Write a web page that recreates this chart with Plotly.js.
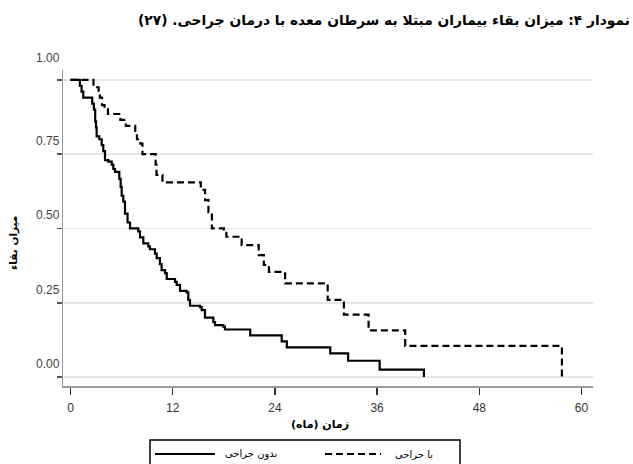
<!DOCTYPE html>
<html>
<head>
<meta charset="utf-8">
<script src="https://cdn.plot.ly/plotly-3.0.1.min.js"></script>
<style>html,body{margin:0;padding:0;background:#fff;}</style>
</head>
<body>
<div id="chart" style="width:633px;height:464px;"></div>
<script>
// ---- data ----
const seriesNames = ['بدون جراحی', 'با جراحی'];

const noSurgeryMonths = [0,1.1,1.3,1.5,2.55,2.75,2.9,3.0,3.07,3.38,3.66,3.85,4.05,4.44,4.84,5.03,5.23,5.73,5.89,6.01,6.2,6.4,6.7,6.99,7.96,8.16,8.55,9.13,9.33,9.92,10.12,10.5,10.7,11.1,11.3,12.27,12.47,12.86,13.64,13.83,14.03,15.2,15.4,15.79,16.77,16.97,17.94,18.14,21.1,24.8,25.4,30.5,32.6,36.3,41.5];
const noSurgerySurvival = [1.0,0.98,0.96,0.94,0.92,0.90,0.86,0.84,0.81,0.80,0.78,0.76,0.73,0.725,0.715,0.70,0.69,0.667,0.64,0.61,0.59,0.55,0.52,0.50,0.49,0.47,0.45,0.44,0.43,0.415,0.40,0.38,0.36,0.35,0.33,0.32,0.31,0.29,0.285,0.26,0.24,0.235,0.225,0.20,0.185,0.175,0.17,0.16,0.14,0.12,0.10,0.08,0.055,0.025,0.0];

const surgeryMonths = [0,2.7,3.3,3.45,3.7,4.0,4.4,5.85,6.5,7.6,7.8,8.2,8.45,10.0,10.1,10.8,15.3,15.8,16.2,16.6,18.0,18.3,20.1,22.1,22.7,23.3,25.2,30.2,32.1,35.0,39.3,57.7];
const surgerySurvival = [1.0,0.975,0.96,0.94,0.915,0.905,0.885,0.865,0.845,0.82,0.80,0.785,0.75,0.715,0.68,0.655,0.63,0.595,0.555,0.50,0.485,0.472,0.444,0.41,0.377,0.354,0.315,0.26,0.21,0.157,0.105,0.0];

const xTickValues = [0,12,24,36,48,60];
const xTickLabels = ['0','12','24','36','48','60'];
const yTickValues = [0,0.25,0.5,0.75,1.0];
const yTickLabels = ['0.00','0.25','0.50','0.75','1.00'];

const RLM = '\u200F';
const chartTitle = 'نمودار ۴: میزان بقاء بیماران مبتلا به سرطان معده با درمان جراحی. (۲۷)';
const xTitle = 'زمان (ماه)';
const yTitle = 'میزان بقاء';

// ---- styling / layout ----
const persianFont = 'DejaVu Sans, Noto Sans, sans-serif';
const latinFont = 'Liberation Sans, Arial, sans-serif';

// plot area in pixels: left 63, right 593, top 70, bottom 386
const L = 63, R = 593, T = 70, B = 386;
const px2x = p => (p - L) / (R - L);
const py2y = p => (B - p) / (B - T);

const traces = [
  {
    x: noSurgeryMonths, y: noSurgerySurvival, name: seriesNames[0],
    type: 'scatter', mode: 'lines', line: {shape: 'hv', color: '#000', width: 2.2},
    showlegend: false, hoverinfo: 'skip'
  },
  {
    x: surgeryMonths, y: surgerySurvival, name: seriesNames[1],
    type: 'scatter', mode: 'lines', line: {shape: 'hv', color: '#000', width: 2.2, dash: '7px,4px'},
    showlegend: false, hoverinfo: 'skip'
  }
];

const annotations = [];
yTickValues.forEach((v, i) => {
  annotations.push({
    xref: 'paper', yref: 'y', x: 0, y: v, xanchor: 'right', yanchor: 'middle',
    xshift: -1, yshift: (v === 1 ? 22 : 13), showarrow: false, text: yTickLabels[i],
    font: {family: latinFont, size: 12, color: '#444'}
  });
});
annotations.push({
  xref: 'paper', yref: 'paper', x: px2x(13), y: py2y(243), textangle: -90,
  xanchor: 'center', yanchor: 'middle', showarrow: false,
  text: '<b>' + RLM + yTitle + RLM + '</b>', font: {family: persianFont, size: 10.5, color: '#000'}
});
annotations.push({
  xref: 'paper', yref: 'paper', x: px2x(320), y: py2y(424),
  xanchor: 'center', yanchor: 'middle', showarrow: false,
  text: '<b>' + RLM + xTitle + RLM + '</b>', font: {family: persianFont, size: 11, color: '#000'}
});
// legend texts
annotations.push({
  xref: 'paper', yref: 'paper', x: px2x(250.5), y: py2y(454),
  xanchor: 'center', yanchor: 'middle', showarrow: false,
  text: RLM + seriesNames[0] + RLM, font: {family: persianFont, size: 10, color: '#000'}
});
annotations.push({
  xref: 'paper', yref: 'paper', x: px2x(413.5), y: py2y(454),
  xanchor: 'center', yanchor: 'middle', showarrow: false,
  text: RLM + seriesNames[1] + RLM, font: {family: persianFont, size: 10, color: '#000'}
});

const shapes = [
  {type: 'rect', xref: 'paper', yref: 'paper', x0: px2x(150), x1: px2x(460), y0: py2y(440), y1: py2y(476),
   line: {color: '#000', width: 1.5}, fillcolor: 'rgba(0,0,0,0)'},
  {type: 'line', xref: 'paper', yref: 'paper', x0: px2x(155), x1: px2x(215), y0: py2y(454), y1: py2y(454),
   line: {color: '#000', width: 2.2}},
  {type: 'line', xref: 'paper', yref: 'paper', x0: px2x(325), x1: px2x(381), y0: py2y(454), y1: py2y(454),
   line: {color: '#000', width: 2.2, dash: '7px,4px'}}
];

const layout = {
  width: 633, height: 464,
  margin: {l: L, r: 633 - R, t: T, b: 464 - B, autoexpand: false},
  paper_bgcolor: '#fff', plot_bgcolor: '#fff',
  showlegend: false,
  title: {
    text: '<b>' + RLM + chartTitle + RLM + '</b>',
    x: 0.995, xanchor: 'right', xref: 'container',
    y: 1 - 20 / 464, yanchor: 'middle', yref: 'container',
    font: {family: persianFont, size: 13.8, color: '#000'}
  },
  xaxis: {
    range: [-0.88, 61.35], tickvals: xTickValues, ticktext: xTickLabels,
    ticks: 'outside', ticklen: 7, tickwidth: 1.5, tickcolor: '#333',
    showline: true, linecolor: '#999', linewidth: 1.5,
    showgrid: false, zeroline: false, ticklabelstandoff: 3,
    tickfont: {family: latinFont, size: 12, color: '#333'}
  },
  yaxis: {
    range: [-0.03, 1.033], tickvals: yTickValues,
    ticks: 'outside', ticklen: 5, tickwidth: 1.5, tickcolor: '#555',
    showticklabels: false,
    showline: true, linecolor: '#999', linewidth: 1.5,
    showgrid: true, gridcolor: '#e6e6e6', gridwidth: 1.5, zeroline: false
  },
  annotations: annotations,
  shapes: shapes
};

Plotly.newPlot('chart', traces, layout, {staticPlot: true, displayModeBar: false});
</script>
</body>
</html>
